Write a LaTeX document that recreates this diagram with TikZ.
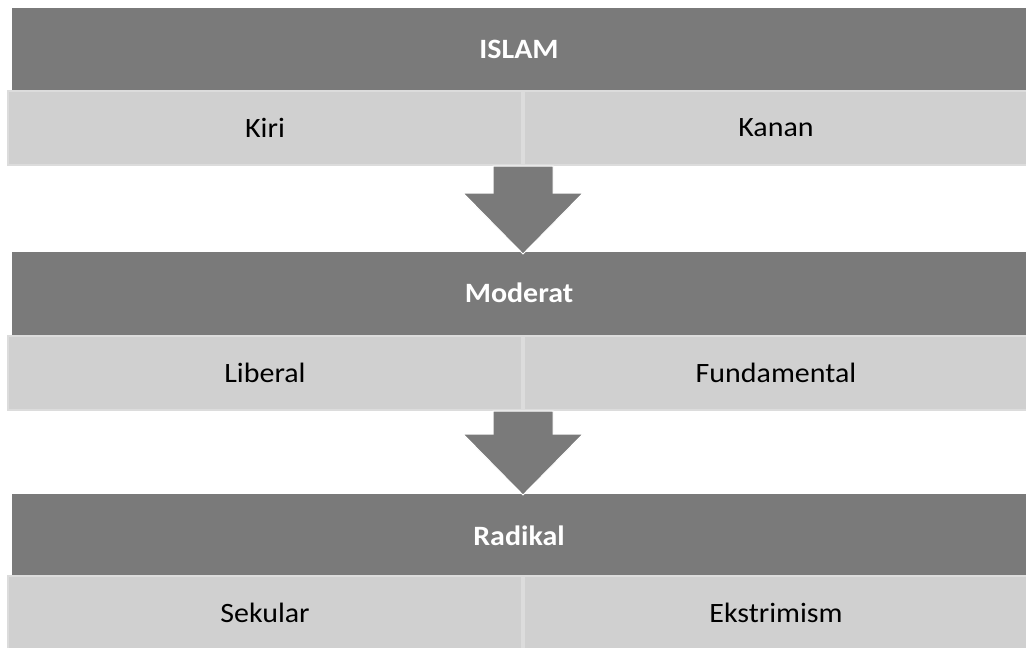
\documentclass[tikz,border=0pt]{standalone}
\usepackage{fontspec}
\setmainfont{Carlito}[FakeStretch=1.07]
\usetikzlibrary{positioning, calc}
\definecolor{headgray}{HTML}{7A7A7A}
\definecolor{cellgray}{HTML}{D0D0D0}
\definecolor{edgegray}{HTML}{DCDCDC}

\begin{document}
\begin{tikzpicture}[x=1pt, y=-1pt,
    head node/.style={rectangle, fill=headgray, text=white, minimum width=1014pt, minimum height=83pt, inner sep=0pt, font=\fontsize{28}{32}\selectfont\bfseries},
    cell node/.style={rectangle, fill=cellgray, draw=edgegray, line width=2pt, minimum height=74pt, inner sep=0pt, font=\fontsize{28}{32}\selectfont},
    left cell/.style={cell node, minimum width=514pt},
    right cell/.style={cell node, minimum width=504pt},
    block arrow/.style={fill=headgray, draw=white, line width=1pt, line join=miter}
    ]

    \useasboundingbox (0,0) rectangle (1026,648);

    % first level
    \node[head node] (ISLAM) at (519,49.5) {ISLAM};
    \node[left cell] (KIRI) at (265,128) {Kiri};
    \node[right cell] (KANAN) at (776,128) {Kanan};

    % second level
    \node[head node] (MOD) at (519,293) {Moderat};
    \node[left cell] (LIB) at (265,373) {Liberal};
    \node[right cell] (FUND) at (776,373) {Fundamental};

    % third level
    \node[head node] (RAD) at (519,535.5) {Radikal};
    \node[left cell] (SEK) at (265,613) {Sekular};
    \node[right cell] (EKS) at (776,613) {Ekstrimism};

    % arrows
    \coordinate (A1) at (KIRI.south east -| 523,0);
    \coordinate (A2) at (LIB.south east -| 523,0);
    \draw[block arrow] (A1) ++(-30,0) -- ++(60,0) -- ++(0,27) -- ++(30,0) -- ++(-60,61) -- ++(-60,-61) -- ++(30,0) -- cycle;
    \draw[block arrow] (A2) ++(-30,0) -- ++(60,0) -- ++(0,23) -- ++(30,0) -- ++(-60,61) -- ++(-60,-61) -- ++(30,0) -- cycle;

\end{tikzpicture}
\end{document}
